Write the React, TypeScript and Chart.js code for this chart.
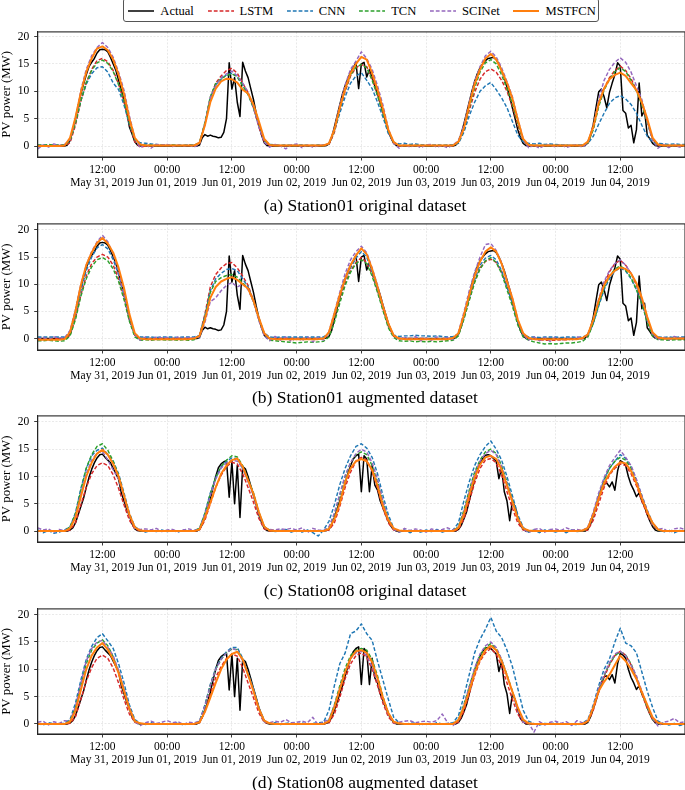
import React, { useEffect, useRef } from 'react';
import { Chart, registerables } from 'chart.js';

Chart.register(...registerables);

// ---------- axis / label data ----------
const TICK_HOURS = [12, 24, 36, 48, 60, 72, 84, 96, 108];
const TICK_TIMES = ['12:00', '00:00', '12:00', '00:00', '12:00', '00:00', '12:00', '00:00', '12:00'];
const TICK_DATES = ['May 31, 2019', 'Jun 01, 2019', 'Jun 01, 2019', 'Jun 02, 2019', 'Jun 02, 2019', 'Jun 03, 2019', 'Jun 03, 2019', 'Jun 04, 2019', 'Jun 04, 2019'];
const Y_TICKS = [0, 5, 10, 15, 20];
const SERIES_NAMES = ['Actual', 'LSTM', 'CNN', 'TCN', 'SCINet', 'MSTFCN'];
const ACTUAL_STEP_H = 0.5; // half-hourly actual measurements
const MODEL_STEP_H = 1; // hourly model outputs

// ---------- Actual power (half-hourly, 5 days x 48 + 1) ----------
const ACTUAL_S01 = [
  // May 31
  0,0,0,0,0,0,0,0,0,0,0,
  0.2,1.0,3.0,5.0,7.3,9.5,11.3,13.0,14.5,15.3,16.0,17.0,17.6,17.7,17.6,17.2,16.2,15.0,13.8,12.0,10.3,8.5,6.3,3.5,2.2,0.8,0.2,
  0,0,0,0,0,0,0,0,0,0,
  // Jun 01
  0,0,0,0,0,0,0,0,0,0,0,0,
  0.2,1.5,2.1,1.8,2.0,1.8,1.7,1.5,1.6,2.5,5.0,15.2,10.4,12.5,8.0,5.4,15.3,13.7,12.5,10.5,8.5,6.0,3.8,2.0,0.6,0.1,
  0,0,0,0,0,0,0,0,0,0,
  // Jun 02
  0,0,0,0,0,0,0,0,0,0,0,
  0.1,0.4,1.5,3.5,5.5,7.5,9.5,11.0,12.3,13.5,14.3,15.3,10.5,15.0,15.3,12.6,14.0,12.5,11.0,9.5,8.0,6.2,4.5,2.8,1.5,0.5,0.1,
  0,0,0,0,0,0,0,0,0,0,
  // Jun 03
  0,0,0,0,0,0,0,0,0,0,0,
  0.2,0.8,2.2,4.0,6.0,8.0,10.0,11.8,13.2,14.3,15.0,15.6,16.0,16.1,16.2,15.8,15.0,13.8,12.5,10.8,9.0,7.0,5.0,3.0,1.5,0.5,0.1,
  0,0,0,0,0,0,0,0,0,0,
  // Jun 04
  0,0,0,0,0,0,0,0,0,0,0,
  0.1,0.8,2.0,4.0,7.0,9.9,10.4,9.0,7.0,9.8,11.5,13.0,15.2,14.6,6.5,6.0,3.3,3.8,0.6,3.0,11.5,5.5,6.5,2.0,1.3,0.5,0.1,
  0,0,0,0,0,0,0,0,0,0,
  0,
];

const ACTUAL_S08 = [
  // May 31
  0,0,0,0,0,0,0,0,0,0,0,0,
  0.2,0.6,1.5,3.0,4.5,6.0,8.0,9.8,11.3,12.5,13.4,14.0,14.1,13.5,13.0,12.5,11.5,10.5,9.5,7.0,5.5,4.0,2.8,1.3,0.4,0.1,
  0,0,0,0,0,0,0,0,0,0,
  // Jun 01
  0,0,0,0,0,0,0,0,0,0,0,0,
  0.3,1.2,2.5,4.0,5.8,8.0,10.0,11.6,12.3,12.7,12.9,6.2,12.8,5.0,12.0,2.5,11.8,11.4,10.0,8.3,6.5,4.8,3.0,1.6,0.5,0.1,
  0,0,0,0,0,0,0,0,0,0,
  // Jun 02
  0,0,0,0,0,0,0,0,0,0,0,
  0.1,0.3,1.2,2.5,4.0,5.5,7.0,8.8,10.5,12.0,13.2,13.8,14.1,7.2,13.8,13.2,7.2,12.0,8.4,7.5,5.5,4.3,3.0,1.8,0.9,0.3,0.0,
  0,0,0,0,0,0,0,0,0,0,
  // Jun 03
  0,0,0,0,0,0,0,0,0,0,0,
  0.0,0.3,1.0,2.2,3.5,5.5,7.5,9.5,11.3,12.4,13.3,13.9,14.0,13.8,13.3,12.8,9.6,11.5,7.2,5.5,1.9,5.5,4.5,2.5,1.0,0.4,0.0,
  0,0,0,0,0,0,0,0,0,0,
  // Jun 04
  0,0,0,0,0,0,0,0,0,0,0,
  0.0,0.3,1.3,2.8,4.3,6.0,7.5,8.6,8.8,8.1,9.0,7.5,11.0,12.9,12.6,12.0,10.0,8.5,7.5,6.3,7.0,5.5,4.5,3.0,1.8,0.8,0.2,
  0,0,0,0,0,0,0,0,0,0,
  0,
];

// ---------- Panel (a): Station01 original (hourly, 5 days x 24 + 1) ----------
const LSTM_A = [
  0.1,0.1,0.1,0.1,0.1,0.1, 0.6,3.8,8.2,11.5,14.0,15.6, 16.0,15.4,13.8,11.3,8.0,4.0, 0.8,-0.2,0.0,0.1,0.1,0.1,
  0.1,0.1,0.1,0.1,0.1,0.1, 0.5,4.0,8.8,11.5,12.8,13.8, 14.2,13.3,11.5,9.8,7.0,3.5, 0.8,0.1,0.1,0.1,0.1,0.1,
  0.1,0.1,0.1,0.1,0.1,0.1, 0.3,2.5,6.5,10.0,12.8,14.3, 14.9,14.5,12.3,9.3,6.0,2.5, 0.5,0.0,0.1,0.1,0.1,0.1,
  0.1,0.1,0.1,0.1,0.1,0.1, 0.6,2.8,6.5,9.8,12.2,13.6, 14.1,13.5,12.0,10.0,7.3,3.8, 1.0,0.1,0.1,0.1,0.1,0.1,
  0.1,0.1,0.1,0.1,0.1,0.1, 0.5,3.2,7.5,10.5,12.5,13.8, 14.6,13.8,12.3,10.2,7.8,4.5, 1.2,0.2,0.1,0.1,0.1,0.1,
  0.1,
];
const CNN_A = [
  0.1,0.2,0.1,0.2,0.1,0.2, 1.0,4.3,8.3,11.3,13.2,14.3, 14.5,13.5,11.5,10.3,7.5,4.0, 1.2,0.6,0.5,0.4,0.3,0.2,
  0.2,0.1,0.2,0.1,0.2,0.2, 0.6,4.2,8.8,11.2,12.2,13.0, 13.3,12.8,11.2,9.5,7.0,3.8, 1.0,0.3,0.2,0.1,0.2,0.1,
  0.1,0.2,0.1,0.1,0.2,0.1, 0.5,2.8,6.0,9.0,11.5,12.8, 13.4,12.0,10.5,8.0,5.3,2.3, 0.7,0.4,0.5,0.3,0.4,0.2,
  0.2,0.1,0.2,0.1,0.2,0.2, 0.5,2.5,5.5,8.0,10.0,11.0, 11.6,10.3,8.8,7.0,4.5,2.0, 0.8,0.5,0.4,0.5,0.3,0.4,
  0.3,0.2,0.2,0.1,0.2,0.2, 0.5,1.8,4.0,6.0,7.8,8.8, 9.2,8.6,7.6,6.0,3.8,1.8, 0.7,0.5,0.4,0.3,0.4,0.3,
  0.3,
];
const TCN_A = [
  0.2,0.1,0.3,0.1,0.2,0.2, 1.0,4.2,8.3,11.6,13.8,15.2, 15.7,15.1,13.6,11.2,8.3,4.3, 1.2,0.3,0.2,0.2,0.1,0.2,
  0.1,0.2,0.1,0.1,0.2,0.1, 0.6,4.3,9.0,11.4,12.3,12.9, 13.2,12.6,11.0,9.4,7.0,3.8, 1.0,0.2,0.1,0.1,0.1,0.1,
  0.1,0.1,0.1,0.1,0.1,0.1, 0.4,2.8,6.8,10.3,13.0,14.4, 14.9,14.3,12.0,9.2,6.0,2.8, 0.6,0.1,0.1,0.1,0.1,0.1,
  0.1,0.1,0.1,0.1,0.1,0.1, 0.7,3.0,7.0,10.6,13.5,15.2, 15.8,15.0,13.0,10.5,7.8,4.2, 1.1,0.2,0.1,0.1,0.1,0.1,
  0.1,0.1,0.1,0.1,0.1,0.1, 0.5,3.0,7.2,10.2,12.2,13.6, 14.3,13.6,12.0,10.0,7.6,4.3, 1.1,0.2,0.1,0.1,0.1,0.1,
  0.1,
];
const SCINET_A = [
  -0.5,0.2,-0.2,0.4,0.1,0.3, 1.2,5.0,10.2,14.0,16.5,18.0, 18.9,18.0,16.2,13.5,10.2,5.5, 1.5,-0.3,0.3,-0.4,0.3,0.2,
  0.3,-0.1,0.2,0.0,0.2,-0.2, 0.4,4.0,8.8,11.0,12.5,13.2, 13.7,12.8,11.5,9.8,7.2,3.5, 0.7,-0.2,0.3,0.0,-0.5,0.2,
  0.4,-0.3,0.2,-0.2,0.1,0.2, 0.4,3.2,7.5,11.2,14.0,15.5, 17.2,16.0,14.0,11.0,7.5,3.2, 0.5,-0.4,0.3,-0.2,0.2,-0.3,
  0.2,0.3,-0.2,0.1,-0.3,0.2, 1.0,3.8,8.0,11.8,14.5,16.5, 17.3,16.3,14.3,11.8,9.0,5.0, 1.3,-0.3,0.2,-0.4,0.1,0.2,
  -0.2,0.3,-0.3,0.1,0.2,-0.2, 0.6,3.8,8.5,12.0,14.0,15.3, 16.1,15.3,13.5,11.0,8.5,4.5, 1.0,-0.4,0.3,-0.3,0.2,-0.2,
  0.1,
];
const MSTFCN_A = [
  0.0,0.0,0.0,0.0,0.0,0.1, 1.5,5.2,9.8,13.5,16.0,17.8, 18.2,17.5,15.8,13.0,9.5,5.0, 1.5,0.3,0.1,0.1,0.1,0.1,
  0.1,0.1,0.1,0.1,0.1,0.1, 0.6,3.8,8.0,10.5,11.8,12.3, 12.2,11.6,10.3,9.6,7.6,4.5, 1.3,0.2,0.1,0.1,0.1,0.1,
  0.1,0.1,0.1,0.1,0.1,0.1, 0.5,3.0,7.0,10.5,13.3,15.0, 16.3,15.8,13.3,10.3,6.8,3.0, 0.7,0.1,0.1,0.1,0.1,0.1,
  0.1,0.1,0.1,0.1,0.1,0.1, 0.8,3.2,7.5,11.3,14.0,16.0, 16.8,15.8,13.8,11.5,8.7,4.8, 1.3,0.2,0.1,0.1,0.1,0.1,
  0.1,0.1,0.1,0.1,0.1,0.1, 0.8,3.5,7.8,10.5,12.2,13.0, 13.4,12.8,11.5,10.2,8.0,5.0, 1.5,0.3,0.1,0.1,0.1,0.1,
  0.1,
];

// ---------- Panel (b): Station01 augmented ----------
const LSTM_B = [
  0.0,0.0,0.0,0.0,0.0,0.0, 0.6,3.8,8.0,11.5,13.8,15.0, 15.5,15.0,13.5,11.0,7.5,3.5, 0.6,-0.1,-0.1,0.0,0.0,0.0,
  0.0,0.0,0.0,0.0,0.0,0.0, 0.6,4.5,9.5,11.8,13.0,13.8, 14.0,13.0,11.5,9.8,7.0,3.5, 0.8,0.0,0.0,0.0,0.0,0.0,
  0.0,0.0,0.0,0.0,0.0,0.0, 0.8,3.8,7.2,10.2,12.5,14.0, 14.9,14.0,11.8,8.8,5.5,2.3, 0.4,0.0,0.0,0.0,0.0,0.0,
  0.0,-0.1,-0.1,0.0,0.0,0.0, 0.8,3.8,7.2,10.5,13.0,14.2, 14.6,14.0,12.3,9.5,6.5,3.0, 0.6,0.0,-0.1,-0.2,-0.3,-0.3,
  -0.3,-0.2,-0.2,-0.1,-0.1,0.0, 0.5,3.0,6.8,10.0,12.3,13.8, 14.4,13.5,12.0,9.8,7.0,3.5, 0.8,0.0,0.0,0.0,0.0,0.0,
  0.0,
];
const CNN_B = [
  0.3,0.3,0.3,0.3,0.3,0.3, 1.0,4.5,8.8,12.5,15.0,16.7, 17.3,16.5,14.5,11.8,8.0,3.8, 0.8,0.3,0.3,0.3,0.2,0.3,
  0.3,0.3,0.2,0.3,0.3,0.3, 0.6,4.2,8.8,11.0,12.0,12.7, 12.9,12.5,11.0,9.5,7.0,3.8, 1.0,0.3,0.2,0.3,0.3,0.3,
  0.3,0.3,0.3,0.3,0.3,0.3, 1.0,4.2,7.8,10.8,13.0,14.8, 16.0,15.0,12.2,9.0,5.8,2.5, 0.6,0.4,0.5,0.5,0.6,0.5,
  0.5,0.4,0.5,0.4,0.3,0.4, 0.8,4.0,7.5,10.8,13.5,14.8, 15.3,14.5,12.5,9.5,6.5,3.0, 0.7,0.3,0.3,0.2,0.3,0.3,
  0.3,0.2,0.3,0.3,0.2,0.3, 0.6,2.8,6.0,9.0,11.0,12.4, 13.0,12.4,11.0,9.0,6.5,3.2, 0.8,0.3,0.2,0.3,0.2,0.3,
  0.3,
];
const TCN_B = [
  -0.4,-0.4,-0.3,-0.4,-0.5,-0.4, 0.5,3.5,7.8,11.0,13.2,14.5, 14.9,14.3,12.8,10.5,7.2,3.2, 0.3,-0.3,-0.2,-0.3,-0.2,-0.2,
  -0.3,-0.2,-0.3,-0.2,-0.3,-0.2, 0.5,4.0,8.5,10.5,11.2,11.6, 11.8,11.3,10.3,9.2,6.8,3.5, 0.8,-0.3,-0.4,-0.5,-0.6,-0.7,
  -0.8,-0.7,-0.6,-0.7,-0.6,-0.5, 0.3,3.0,6.5,9.8,12.2,13.8, 14.5,13.8,11.5,8.5,5.2,2.0, 0.2,-0.4,-0.5,-0.4,-0.6,-0.5,
  -0.6,-0.5,-0.6,-0.5,-0.4,-0.3, 0.5,3.5,7.0,10.3,12.8,14.3, 14.9,14.0,12.0,9.0,6.0,2.5, 0.3,-0.3,-0.6,-0.8,-1.0,-0.9,
  -1.0,-0.9,-0.8,-0.8,-0.7,-0.5, 0.3,2.8,6.2,9.3,11.5,12.8, 13.4,12.6,11.2,9.0,6.5,3.0, 0.4,-0.2,-0.2,-0.3,-0.2,-0.2,
  -0.2,
];
const SCINET_B = [
  -0.3,0.2,-0.2,0.3,0.1,0.2, 1.5,5.3,10.0,13.5,16.0,17.8, 19.0,17.8,15.5,12.3,8.3,4.0, 0.8,-0.3,0.3,-0.2,0.3,0.1,
  0.2,-0.2,0.3,0.0,0.2,0.1, 0.3,3.0,6.8,7.5,8.8,9.8, 10.3,9.5,10.0,9.0,6.8,3.3, 0.5,-0.4,0.4,-0.3,0.3,-0.5,
  0.2,-0.4,0.3,-0.6,0.2,-0.3, 1.3,4.8,8.5,12.0,14.5,16.0, 17.0,15.8,13.0,9.8,6.2,2.8, 0.5,-0.2,0.3,-0.3,0.4,-0.4,
  0.1,-0.3,0.3,-0.2,0.2,-0.2, 1.2,4.8,8.8,12.2,15.0,17.3, 17.5,16.2,14.0,10.8,7.5,3.5, 0.8,-0.3,0.3,-0.4,0.2,-0.5,
  0.3,-0.4,0.2,-0.3,0.3,0.1, 0.7,3.5,7.3,10.5,12.5,13.8, 14.5,13.5,12.0,10.0,7.2,3.6, 0.7,-0.2,0.3,-0.3,0.4,0.1,
  0.2,
];
const MSTFCN_B = [
  -0.2,-0.2,-0.2,-0.2,-0.2,-0.1, 1.2,5.0,9.8,13.5,15.8,17.6, 18.5,17.5,15.8,13.0,9.3,4.5, 1.0,0.0,-0.1,-0.1,-0.1,-0.1,
  -0.1,-0.1,-0.1,-0.1,-0.1,0.0, 0.5,3.5,7.5,9.5,10.5,11.0, 11.3,10.8,10.0,9.2,7.0,3.8, 1.0,0.0,-0.1,-0.1,-0.1,-0.1,
  -0.1,-0.1,-0.1,-0.1,-0.1,0.0, 1.2,4.5,8.0,11.0,13.5,15.3, 16.6,15.5,12.8,9.5,6.0,2.8, 0.6,0.0,-0.1,-0.1,-0.1,-0.1,
  -0.1,-0.1,-0.1,-0.1,-0.1,0.1, 1.0,4.3,8.0,11.5,14.2,16.0, 16.8,16.0,13.8,10.5,7.4,3.5, 1.0,0.1,-0.1,-0.1,-0.1,-0.1,
  -0.1,-0.1,-0.1,-0.1,-0.1,0.1, 0.8,3.5,7.0,9.8,11.5,12.5, 13.1,12.8,12.0,10.2,7.5,4.0, 1.1,0.2,0.0,0.0,0.0,0.0,
  0.0,
];

// ---------- Panel (c): Station08 original ----------
const LSTM_C = [
  0,0,0,0,0,0, 0.2,1.5,4.8,8.0,10.5,12.0, 12.5,12.0,10.3,7.8,4.8,2.0, 0.4,0.0,0,0,0,0,
  0,0,0,0,0,0, 0.2,2.0,5.0,8.0,10.2,11.8, 12.6,12.3,10.5,8.0,5.3,2.3, 0.4,0.0,0,0,0,0,
  0,0,0,0,0,0, 0.2,1.5,4.5,8.0,10.8,12.8, 13.5,13.0,11.0,7.8,4.2,1.5, 0.2,0.0,0,0,0,0,
  0,0,0,0,0,0, 0.3,2.2,5.5,8.8,11.5,13.0, 13.3,12.5,10.3,7.2,4.2,1.5, 0.2,0.0,0,0,0,0,
  0,0,0,0,0,0, 0.2,2.0,5.0,8.0,10.3,11.5, 12.3,12.0,10.5,8.3,5.5,3.0, 1.0,0.2,0,0,0,0,
  0,
];
const CNN_C = [
  0.2,-0.3,0.1,-0.4,-0.2,0.2, 0.8,3.3,7.8,11.5,13.8,14.8, 15.2,14.0,12.8,10.5,7.0,3.3, 0.8,0.2,-0.2,0.1,-0.1,0.2,
  -0.1,0.1,-0.2,0.2,0.0,0.1, 0.5,3.3,7.0,9.8,11.8,12.8, 13.4,13.3,11.5,9.3,6.8,3.3, 0.8,0.2,-0.1,0.1,0.3,-0.2,
  0.1,-0.2,0.2,-0.3,-0.9,0.2, 1.8,4.8,8.5,11.5,13.8,15.5, 16.0,15.2,13.5,10.5,6.5,3.0, 0.5,-0.2,0.2,-0.3,0.1,-0.2,
  0.2,-0.1,0.3,-0.2,0.1,0.2, 1.5,5.5,9.0,12.0,14.0,15.5, 16.5,15.0,13.0,10.0,6.5,3.0, 0.7,-0.2,0.2,-0.3,0.2,0.1,
  -0.2,0.1,-0.3,0.2,-0.1,0.1, 0.6,3.2,6.5,9.5,11.5,12.8, 14.0,13.3,11.8,9.3,6.5,3.8, 1.5,0.3,-0.2,0.2,-0.3,0.1,
  0.0,
];
const TCN_C = [
  0,0,0,0,0,0, 0.8,3.2,7.5,11.5,14.0,15.5, 16.0,14.8,12.8,10.2,6.5,3.0, 0.7,0.1,0,0,0,0,
  0,0,0,0,0,0, 0.5,3.2,6.8,9.8,11.8,13.0, 13.8,13.6,12.0,9.5,7.0,3.5, 0.8,0.1,0,0,0,0,
  0,0,0,0,0,0, 0.6,3.0,6.5,10.0,12.5,14.0, 14.5,14.0,12.0,9.0,5.3,2.2, 0.4,0.0,0,0,0,0,
  0,0,0,0,0,0, 0.8,3.8,7.5,10.8,13.0,14.5, 15.0,14.2,12.0,9.0,5.8,2.5, 0.4,0.0,0,0,0,0,
  0,0,0,0,0,0, 0.5,3.0,6.3,9.3,11.5,12.8, 13.5,13.0,11.5,9.0,6.2,3.5, 1.2,0.2,0,0,0,0,
  0,
];
const SCINET_C = [
  0.6,0.2,0.4,-0.2,0.3,0.1, 0.5,2.8,6.8,10.5,13.0,14.3, 14.6,13.0,11.2,9.5,6.2,2.8, 0.5,0.3,0.4,0.2,0.5,-0.1,
  0.2,0.3,-0.1,0.2,0.4,0.1, 0.4,3.0,6.5,9.5,11.5,12.5, 13.0,12.8,11.5,9.0,6.5,3.2, 0.6,0.3,0.2,0.4,0.3,0.5,
  0.2,0.6,-0.3,0.5,0.2,0.1, 0.8,3.3,6.8,10.2,12.5,14.2, 15.0,14.5,12.5,9.5,5.5,2.2, 0.3,-0.2,0.5,0.1,0.4,0.2,
  -0.2,0.4,0.1,0.3,0.6,0.2, 0.7,3.5,7.2,10.5,12.8,14.2, 14.8,14.0,11.8,8.8,5.6,2.4, 0.4,-0.3,0.3,0.5,-0.2,0.3,
  0.4,0.1,0.6,0.2,0.3,0.1, 0.8,3.5,7.0,9.8,12.0,13.5, 14.8,13.5,12.0,9.5,6.5,3.8, 1.2,0.3,0.5,-0.2,0.4,0.6,
  0.3,
];
const MSTFCN_C = [
  0,0,0,0,0,0, 0.5,2.5,6.3,10.0,12.5,14.2, 14.9,14.0,12.3,10.0,6.5,3.0, 0.7,0.1,0,0,0,0,
  0,0,0,0,0,0, 0.3,2.5,5.2,8.0,10.5,12.0, 13.0,13.3,11.8,9.3,6.8,3.5, 0.8,0.1,0,0,0,0,
  0,0,0,0,0,0, 0.4,2.2,5.0,9.0,11.5,12.8, 13.2,12.8,11.2,8.3,4.6,2.0, 0.5,0.1,0,0,0,0,
  0,0,0,0,0,0, 0.6,3.0,6.5,9.8,12.2,13.5, 13.8,13.2,11.3,8.3,5.4,2.3, 0.5,0.1,0,0,0,0,
  0,0,0,0,0,0.1, 0.6,3.0,6.0,8.8,10.5,11.8, 12.6,12.4,11.0,8.8,6.0,3.5, 1.5,0.3,0,0,0,0,
  0,
];

// ---------- Panel (d): Station08 augmented ----------
const LSTM_D = [
  0,0,0,0,0,0, 0.1,1.3,4.5,7.8,10.3,12.0, 12.6,12.0,10.2,7.5,4.5,1.8, 0.3,0,0,0,0,0,
  0,0,0,0,0,0, 0.2,2.3,5.5,8.5,10.5,12.0, 12.8,12.4,10.3,7.5,4.8,2.0, 0.3,0,0,0,0,0,
  0,0,0,0,0,0, 0.2,1.8,4.8,8.3,11.0,12.5, 13.0,12.2,10.0,7.0,3.8,1.3, 0.1,0,0,0,0,0,
  0,0,0,0,0,0, 0.3,2.3,5.5,8.8,11.5,13.0, 13.8,12.8,10.5,7.5,4.5,1.8, 0.3,0,0,0,0,0,
  0,0,0,0,0,0, 0.3,2.5,5.8,8.5,10.8,12.5, 13.3,12.6,10.8,8.3,5.5,2.8, 0.7,0.1,0,0,0,0,
  0,
];
const CNN_D = [
  0.1,-0.2,0.2,0.0,-0.1,0.2, 0.8,3.8,8.0,11.8,14.2,15.8, 16.5,15.2,13.8,11.0,7.5,3.5, 0.8,0.1,-0.1,0.2,0.0,0.1,
  -0.1,0.1,0.2,-0.2,0.1,0.0, 0.5,3.5,7.2,10.2,12.0,13.2, 14.0,14.0,12.0,9.3,6.5,3.0, 0.6,0.1,0.2,-0.1,0.1,0.2,
  0.0,0.2,-0.1,0.1,0.2,0.3, 2.5,7.0,11.0,13.0,16.5,17.0, 18.3,16.5,15.3,11.5,8.0,4.5, 1.2,0.2,-0.1,0.1,0.2,-0.2,
  0.1,-0.1,0.2,0.0,0.1,0.2, 1.5,5.0,9.0,13.0,15.5,17.3, 19.5,17.0,15.8,13.5,10.5,6.5, 2.5,0.5,0.1,-0.2,0.1,0.0,
  0.2,-0.1,0.1,0.0,-0.2,0.1, 0.8,3.5,7.0,10.0,11.9,15.0, 17.5,14.8,14.3,13.0,9.5,6.0, 3.0,0.5,0.1,-0.2,0.1,-0.3,
  0.0,
];
const TCN_D = [
  0,0,0,0,0,0, 0.6,3.0,7.0,11.0,13.5,14.8, 15.4,14.3,12.3,9.5,6.2,2.8, 0.5,0,0,0,0,0,
  0,0,0,0,0,0, 0.4,3.2,7.0,10.0,11.8,13.0, 13.7,13.6,11.8,9.0,6.3,2.8, 0.5,0,0,0,0,0,
  0,0,0,0,0,0, 0.7,3.5,7.0,10.2,12.5,13.5, 13.8,13.5,11.8,8.8,5.0,2.0, 0.3,0,0,0,0,0,
  0,0,0,0,0,0, 0.8,3.5,6.8,10.0,12.5,14.0, 14.7,13.8,11.8,9.0,6.0,2.8, 0.6,0,0,0,0,0,
  0,0,0,0,0,0, 0.5,3.0,6.2,8.8,11.0,12.5, 13.2,12.6,11.0,8.5,5.7,3.0, 0.8,0.1,0,0,0,0,
  0,
];
const SCINET_D = [
  0.3,0.5,-0.2,0.4,0.1,0.6, 0.5,3.2,7.5,11.5,13.8,15.0, 15.3,14.0,12.5,9.8,6.5,3.0, 0.4,-0.3,0.2,0.5,0.1,0.3,
  0.6,0.2,0.4,-0.1,0.3,0.2, 0.5,3.3,7.0,10.0,11.8,13.0, 13.8,13.5,11.5,9.0,6.2,2.7, 0.4,0.2,0.5,0.3,0.8,0.2,
  0.3,0.5,0.2,1.2,-0.2,0.4, 0.8,3.3,6.5,9.5,12.0,13.0, 13.3,12.5,10.5,7.8,4.5,1.8, 0.2,0.3,0.5,0.6,0.2,0.4,
  0.5,0.3,0.6,1.8,0.2,-0.3, 0.6,3.3,6.8,10.2,12.8,14.3, 15.0,14.0,11.8,8.8,5.8,2.5, 0.3,0.2,-1.5,0.4,-0.2,0.3,
  0.5,0.1,0.4,-0.3,0.6,0.2, 0.6,3.2,6.5,9.0,11.2,12.8, 13.3,12.5,10.8,8.8,6.0,3.3, 1.0,-0.4,0.3,0.5,1.0,0.2,
  0.4,
];
const MSTFCN_D = [
  0,0,0,0,0,0, 0.4,2.4,6.2,10.0,12.5,14.0, 14.8,13.6,11.8,9.3,6.0,2.8, 0.5,0.1,0,0,0,0,
  0,0,0,0,0,0, 0.3,2.2,4.8,7.5,10.0,11.8, 12.8,13.2,11.8,9.0,6.0,2.8, 0.6,0.1,0,0,0,0,
  0,0,0,0,0,0, 0.5,3.0,6.3,9.5,12.0,13.3, 13.5,13.0,11.3,8.3,4.8,2.0, 0.4,0.1,0,0,0,0,
  0,0,0,0,0,0, 0.7,3.0,6.0,9.3,11.8,13.5, 14.3,13.5,11.5,8.8,5.9,3.0, 0.8,0.1,0,0,0,0,
  0,0,0,0,0,0, 0.5,3.0,6.0,7.7,9.0,10.8, 12.5,11.5,10.0,8.2,5.8,3.5, 1.2,0.2,0,0,0,0,
  0,
];

// ---------- panels ----------
const PANELS = [
  { caption: '(a) Station01 original dataset', actual: ACTUAL_S01, models: [LSTM_A, CNN_A, TCN_A, SCINET_A, MSTFCN_A], yMin: -2.0, yMax: 20.85 },
  { caption: '(b) Station01 augmented dataset', actual: ACTUAL_S01, models: [LSTM_B, CNN_B, TCN_B, SCINET_B, MSTFCN_B], yMin: -2.1, yMax: 21.1 },
  { caption: '(c) Station08 original dataset', actual: ACTUAL_S08, models: [LSTM_C, CNN_C, TCN_C, SCINET_C, MSTFCN_C], yMin: -2.0, yMax: 21.1 },
  { caption: '(d) Station08 augmented dataset', actual: ACTUAL_S08, models: [LSTM_D, CNN_D, TCN_D, SCINET_D, MSTFCN_D], yMin: -1.85, yMax: 21.05 },
];

// ---------- styles & layout ----------
const SERIF = '"Liberation Serif", "DejaVu Serif", "Times New Roman", serif';
const STYLES = [
  { color: '#000000', width: 1.5, dash: [] as number[] },
  { color: '#d62728', width: 1.45, dash: [3.8, 2] },
  { color: '#1f77b4', width: 1.45, dash: [3.8, 2] },
  { color: '#2ca02c', width: 1.45, dash: [3.8, 2] },
  { color: '#9467bd', width: 1.45, dash: [3.8, 2] },
  { color: '#ff7f0e', width: 2.0, dash: [] as number[] },
];
const FIG_W = 685;
const FIG_H = 790;
const PLOT_TOPS = [28.5, 220.7, 412.9, 605.1];
const CAPTION_Y = [204.5, 397, 589.5, 781.5];
const PLOT_H = 128.5;
const X_AXIS_H = 40;
const Y_AXIS_W = 37.7;
const X_MAX = 120;
const GRID_COLOR = '#e3e3e3';
const AXIS_COLOR = '#262626';

const framePlugin = {
  id: 'frame',
  afterDatasetsDraw(chart: any) {
    const { ctx, chartArea } = chart;
    const { left, top, right, bottom } = chartArea;
    ctx.save();
    ctx.strokeStyle = AXIS_COLOR;
    ctx.lineWidth = 1.1;
    ctx.setLineDash([]);
    ctx.strokeRect(left, top, right - left, bottom - top);
    ctx.restore();
  },
};

function Panel({ index }: { index: number }) {
  const ref = useRef<HTMLCanvasElement>(null);
  const cfg = PANELS[index];
  const plotTop = PLOT_TOPS[index];
  const canvasTop = Math.floor(plotTop) - 8;
  const padTop = plotTop - canvasTop;
  const canvasH = Math.ceil(padTop + PLOT_H + X_AXIS_H);

  useEffect(() => {
    if (!ref.current) return;
    const series = [cfg.actual, ...cfg.models];
    const datasets = series.map((arr, k) => {
      const step = k === 0 ? ACTUAL_STEP_H : MODEL_STEP_H;
      return {
        label: SERIES_NAMES[k],
        data: arr.map((v: number, i: number) => ({ x: i * step, y: v })),
        borderColor: STYLES[k].color,
        backgroundColor: STYLES[k].color,
        borderWidth: STYLES[k].width,
        borderDash: STYLES[k].dash,
        borderJoinStyle: 'round',
        pointRadius: 0,
        pointHoverRadius: 0,
        fill: false,
        tension: 0,
        order: SERIES_NAMES.length - k,
      };
    });
    const chart = new Chart(ref.current, {
      type: 'line',
      data: { datasets },
      options: {
        animation: false,
        responsive: false,
        maintainAspectRatio: false,
        events: [],
        layout: { padding: { top: padTop, left: 0, right: 0, bottom: 0 } },
        plugins: { legend: { display: false }, tooltip: { enabled: false } },
        scales: {
          x: {
            type: 'linear',
            min: 0,
            max: X_MAX,
            afterBuildTicks: (s: any) => {
              s.ticks = TICK_HOURS.map((v) => ({ value: v }));
            },
            afterFit: (s: any) => {
              s.height = X_AXIS_H;
            },
            ticks: {
              autoSkip: false,
              maxRotation: 0,
              minRotation: 0,
              padding: 3,
              color: '#000',
              font: { family: SERIF, size: 11.5, lineHeight: 1.13 },
              callback: (v: any) => {
                const i = TICK_HOURS.indexOf(Number(v));
                return i < 0 ? '' : [TICK_TIMES[i], TICK_DATES[i]];
              },
            },
            grid: { color: GRID_COLOR, lineWidth: 0.8, drawTicks: true, tickLength: 3.5, tickColor: AXIS_COLOR, tickWidth: 0.9 },
            border: { display: true, color: AXIS_COLOR, width: 1, dash: [2, 1.5] },
          },
          y: {
            min: cfg.yMin,
            max: cfg.yMax,
            afterBuildTicks: (s: any) => {
              s.ticks = Y_TICKS.map((v) => ({ value: v }));
            },
            afterFit: (s: any) => {
              s.width = Y_AXIS_W;
            },
            ticks: { padding: 5, color: '#000', font: { family: SERIF, size: 11.5 } },
            grid: { color: GRID_COLOR, lineWidth: 0.8, drawTicks: true, tickLength: 3.5, tickColor: AXIS_COLOR, tickWidth: 0.9 },
            border: { display: true, color: AXIS_COLOR, width: 1, dash: [2, 1.5] },
            title: {
              display: true,
              text: 'PV power (MW)',
              color: '#000',
              font: { family: SERIF, size: 12.8, lineHeight: 1.0 },
              padding: 0,
            },
          },
        },
      } as any,
      plugins: [framePlugin],
    });
    return () => chart.destroy();
  }, []);

  return (
    <>
      <canvas
        ref={ref}
        width={FIG_W}
        height={canvasH}
        style={{ position: 'absolute', left: 0, top: canvasTop, width: FIG_W, height: canvasH }}
      />
      <div
        style={{
          position: 'absolute',
          left: 0,
          width: 730,
          top: CAPTION_Y[index] - 11,
          height: 22,
          lineHeight: '22px',
          textAlign: 'center',
          fontFamily: SERIF,
          fontSize: 17.5,
          color: '#000',
          whiteSpace: 'nowrap',
        }}
      >
        {cfg.caption}
      </div>
    </>
  );
}

function Legend() {
  return (
    <div
      style={{
        position: 'absolute',
        left: 123.3,
        top: -2,
        width: 476,
        height: 24,
        boxSizing: 'border-box',
        border: '1px solid #555',
        borderRadius: 3,
        background: '#fff',
        display: 'flex',
        alignItems: 'center',
        paddingLeft: 4,
        paddingTop: 2,
        fontFamily: SERIF,
        fontSize: 12.6,
        color: '#000',
        zIndex: 5,
        whiteSpace: 'nowrap',
      }}
    >
      {SERIES_NAMES.map((name, k) => (
        <div key={name} style={{ display: 'flex', alignItems: 'center', marginRight: 13.7 }}>
          <svg width={26} height={4} style={{ display: 'block' }}>
            <line
              x1={0}
              y1={2}
              x2={26}
              y2={2}
              stroke={STYLES[k].color}
              strokeWidth={STYLES[k].width}
              strokeDasharray={STYLES[k].dash.length ? STYLES[k].dash.join(' ') : undefined}
            />
          </svg>
          <span style={{ marginLeft: 6 }}>{name}</span>
        </div>
      ))}
    </div>
  );
}

export default function App() {
  return (
    <div
      style={{
        position: 'absolute',
        left: 0,
        top: 0,
        width: FIG_W,
        height: FIG_H,
        background: '#fff',
        overflow: 'hidden',
      }}
    >
      {PANELS.map((_, i) => (
        <Panel key={i} index={i} />
      ))}
      <Legend />
    </div>
  );
}
